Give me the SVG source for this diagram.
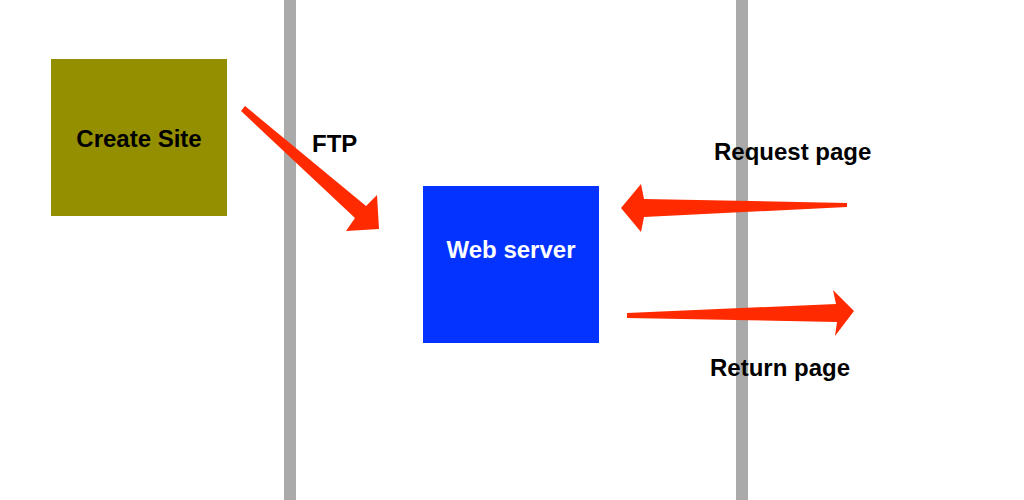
<svg xmlns="http://www.w3.org/2000/svg" width="1024" height="500" viewBox="0 0 1024 500">
<style>
.lbl{font-family:"Liberation Sans",Arial,sans-serif;font-weight:bold;font-size:24px;fill:#000}
.bar{fill:#AAAAAA}
.arr{fill:#FF2A00}
</style>
<rect width="1024" height="500" fill="#fff"/>
<g id="lanes">
<rect class="bar" x="284" y="0" width="12" height="500"/>
<rect class="bar" x="736" y="0" width="12" height="500"/>
</g>
<g id="create-site">
<rect x="51" y="59" width="176" height="157" fill="#948F00"/>
<text class="lbl" x="139" y="147" text-anchor="middle">Create Site</text>
</g>
<g id="web-server">
<rect x="423" y="186" width="176" height="157" fill="#0433FF"/>
<text class="lbl" x="511" y="258" text-anchor="middle" style="fill:#fff">Web server</text>
</g>
<g id="connectors">
<polygon class="arr" points="241,111 245,106 366,206 377,195 379,229 346,231 355,218"/>
<polygon class="arr" points="621,208 641,184 644,199 847,203 847,207 644,217 641,232"/>
<polygon class="arr" points="627,313 836,304 833,290 854,311 835,336 837,322 627,318"/>
</g>
<g id="labels">
<text class="lbl" x="312" y="152">FTP</text>
<text class="lbl" x="714" y="160">Request page</text>
<text class="lbl" x="710" y="376">Return page</text>
</g>
</svg>
